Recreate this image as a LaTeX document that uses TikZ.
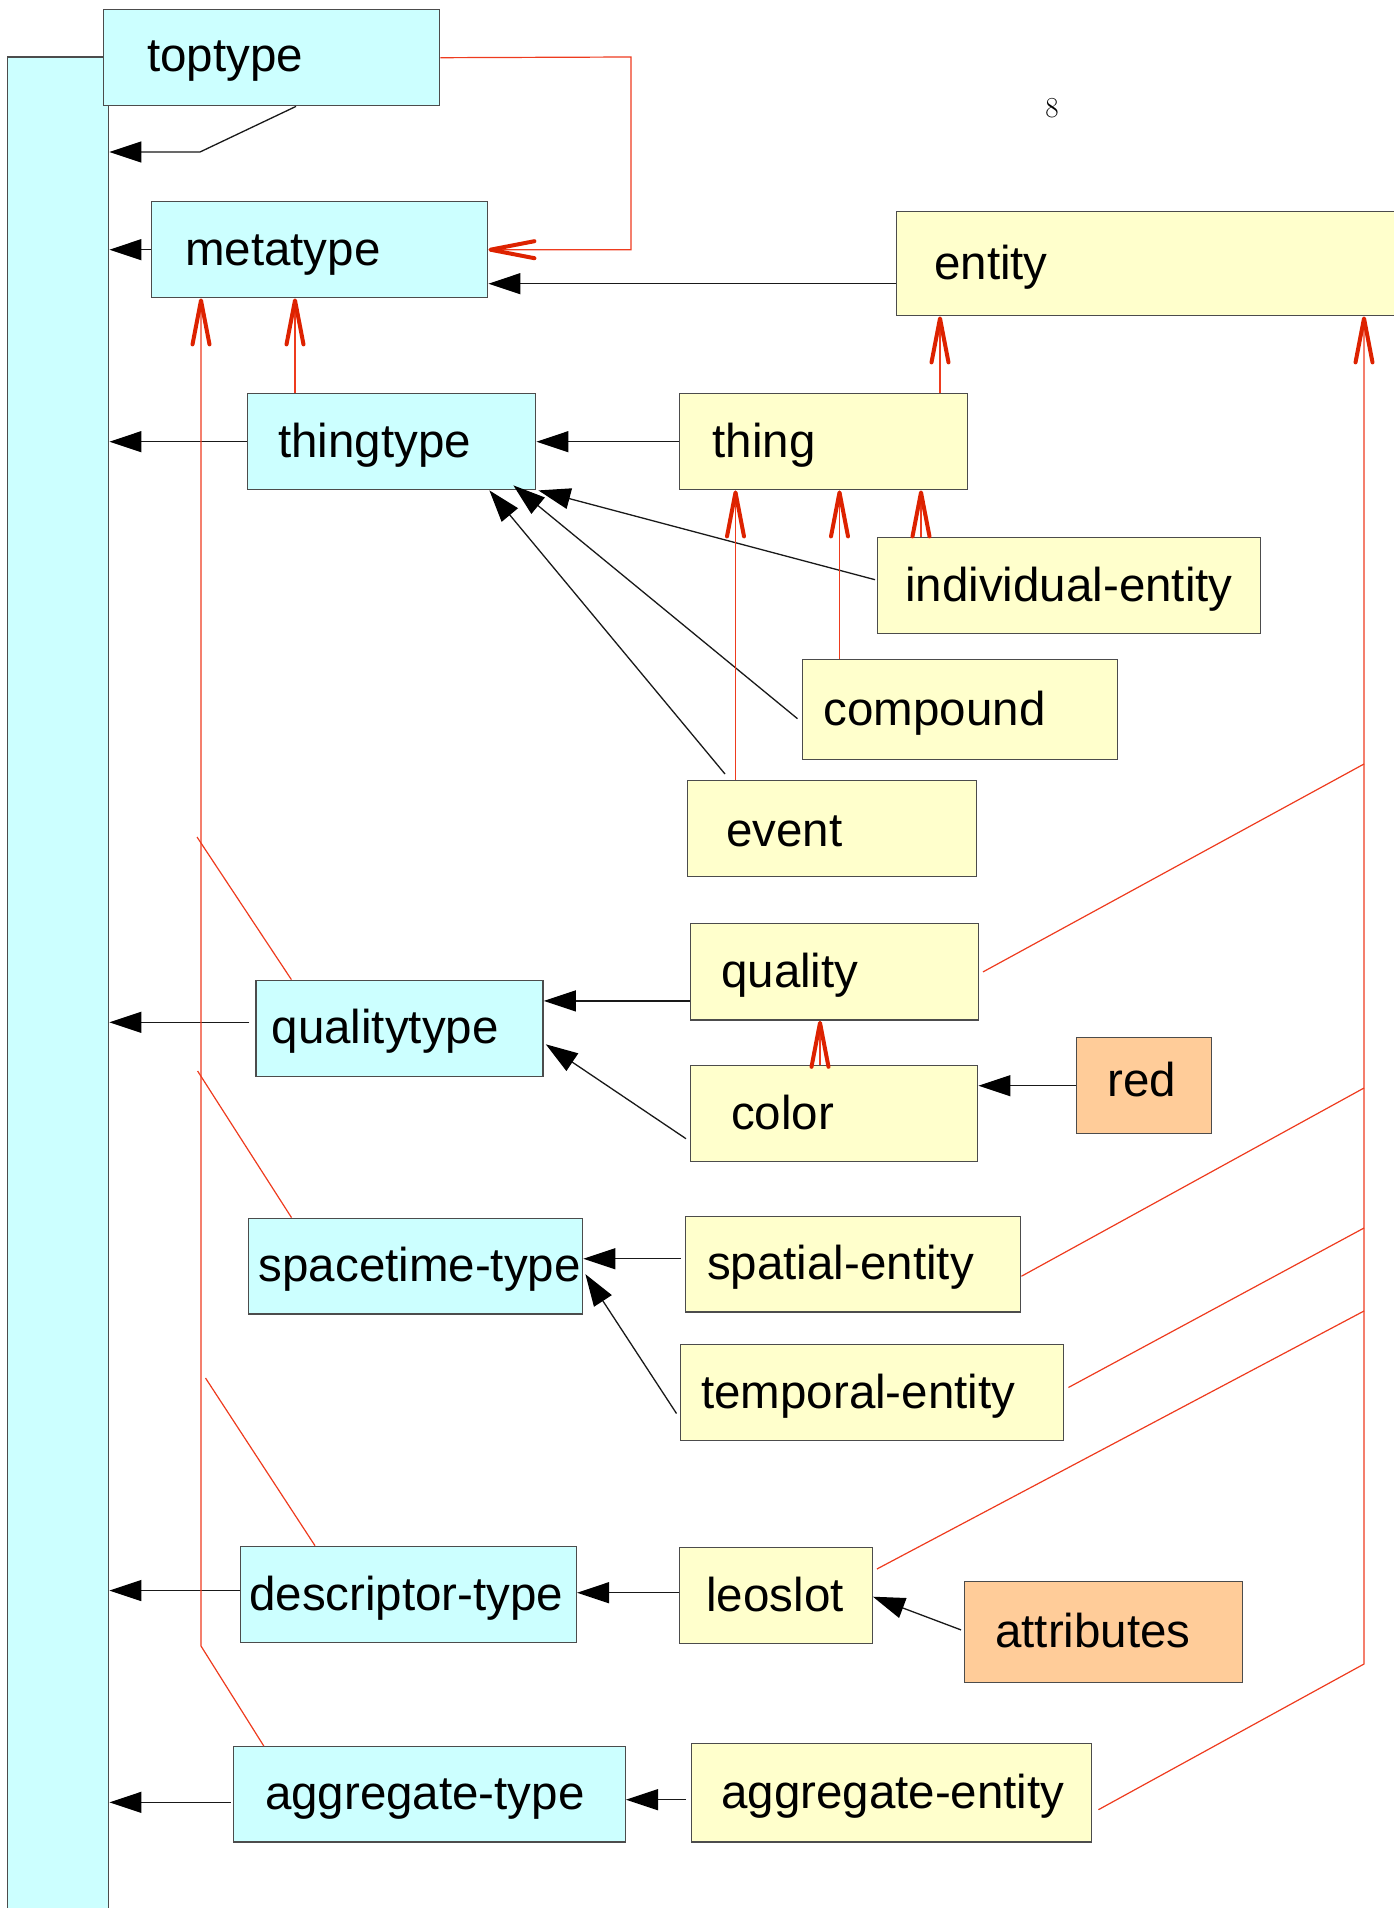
\documentclass[tikz,border=0pt]{standalone}
\usepackage{fontspec}
\setsansfont{Liberation Sans}
\usetikzlibrary{arrows.meta,calc}
\definecolor{cyanfill}{HTML}{CCFFFF}
\definecolor{yelfill}{HTML}{FFFFCC}
\definecolor{orgfill}{HTML}{FFCC99}
\definecolor{redline}{HTML}{EE3B1E}
\definecolor{redtip}{HTML}{DD2200}
\tikzset{
  box/.style={draw=black!70, line width=1.4pt, inner sep=0pt, anchor=north west},
  cbox/.style={box, fill=cyanfill},
  ybox/.style={box, fill=yelfill},
  obox/.style={box, fill=orgfill},
  lbl/.style={inner sep=0pt, anchor=west, font=\sffamily\fontsize{47.5}{57}\selectfont, text height=41pt, text depth=10pt},
  blk/.style={draw=black!90, line width=1.3pt, -{Triangle[length=32pt,width=21pt,color=black]}},
  rarr/.style={draw=redline, line width=1.2pt, -{Straight Barb[length=44pt,width=17pt,line width=4pt,round,color=redtip]}},
  rline/.style={draw=redline, line width=1.2pt},
}
\begin{document}
\begin{tikzpicture}[x=1pt,y=-1pt]
\useasboundingbox (0,0) rectangle (1393,1908);
% page number
\node[font=\fontsize{29}{34}\selectfont, inner sep=0pt] (pagenum) at (1052,108) {8};
% left bar
\node[cbox, minimum width=101, minimum height=1870] (bar) at (7,56.5) {};
% boxes
\node[cbox, minimum width=336, minimum height=96] (toptype) at (103,9) {};
\node[lbl] (toptype-t) at ($(toptype.west)+(44,-2)$) {toptype};
\node[cbox, minimum width=336, minimum height=96] (metatype) at (151,201) {};
\node[lbl] (metatype-t) at ($(metatype.west)+(34,0)$) {metatype};
\node[ybox, minimum width=560, minimum height=104] (entity) at (895.5,211) {};
\node[lbl] (entity-t) at ($(entity.west)+(38.5,0)$) {entity};
\node[cbox, minimum width=288, minimum height=96] (thingtype) at (247,393) {};
\node[lbl] (thingtype-t) at ($(thingtype.west)+(31,0)$) {thingtype};
\node[ybox, minimum width=288, minimum height=96] (thing) at (679,393) {};
\node[lbl] (thing-t) at ($(thing.west)+(33.5,0)$) {thing};
\node[ybox, minimum width=383, minimum height=96] (indent) at (877,537) {};
\node[lbl] (indent-t) at ($(indent.west)+(28,0)$) {individual-entity};
\node[ybox, minimum width=315.5, minimum height=100] (compound) at (801.5,659) {};
\node[lbl] (compound-t) at ($(compound.west)+(22,0)$) {compound};
\node[ybox, minimum width=288.5, minimum height=96] (event) at (687,780) {};
\node[lbl] (event-t) at ($(event.west)+(39,2)$) {event};
\node[ybox, minimum width=287.6, minimum height=96.4] (quality) at (690,923) {};
\node[lbl] (quality-t) at ($(quality.west)+(31,0)$) {quality};
\node[cbox, minimum width=287, minimum height=96] (qualtype) at (255.4,979.6) {};
\node[lbl] (qualtype-t) at ($(qualtype.west)+(16,0)$) {qualitytype};
\node[ybox, minimum width=287, minimum height=96] (color) at (690,1065) {};
\node[lbl] (color-t) at ($(color.west)+(41,0)$) {color};
\node[obox, minimum width=134.6, minimum height=96] (red) at (1076,1037) {};
\node[lbl] (red-t) at ($(red.west)+(31,-5)$) {red};
\node[cbox, minimum width=334.5, minimum height=95.7] (spacetime) at (247.5,1217.6) {};
\node[lbl] (spacetime-t) at ($(spacetime.west)+(11,0)$) {spacetime-type};
\node[ybox, minimum width=335, minimum height=95.7] (spatial) at (685,1215.7) {};
\node[lbl] (spatial-t) at ($(spatial.west)+(22,0)$) {spatial-entity};
\node[ybox, minimum width=383.5, minimum height=95.6] (temporal) at (679.5,1344) {};
\node[lbl] (temporal-t) at ($(temporal.west)+(21.5,0)$) {temporal-entity};
\node[cbox, minimum width=335.7, minimum height=96.3] (desc) at (240,1545.7) {};
\node[lbl] (desc-t) at ($(desc.west)+(9,0)$) {descriptor-type};
\node[ybox, minimum width=192.8, minimum height=96] (leoslot) at (678.7,1547) {};
\node[lbl] (leoslot-t) at ($(leoslot.west)+(27.5,0)$) {leoslot};
\node[obox, minimum width=278, minimum height=101] (attr) at (964,1580.7) {};
\node[lbl] (attr-t) at ($(attr.west)+(31,0)$) {attributes};
\node[cbox, minimum width=391.8, minimum height=95.3] (aggtype) at (232.8,1746) {};
\node[lbl] (aggtype-t) at ($(aggtype.west)+(32,0)$) {aggregate-type};
\node[ybox, minimum width=400, minimum height=98.6] (aggent) at (691,1742.7) {};
\node[lbl] (aggent-t) at ($(aggent.west)+(30,0)$) {aggregate-entity};

% ---------- black connectors ----------
\coordinate (tt0) at ($(toptype.south west)+(193,0)$);
\coordinate (tt1) at (200,152);
\draw[blk] (tt0) -- (tt1) -- (tt1 -| bar.east);
\draw[blk] (metatype.west) -- (metatype.west -| bar.east);
\coordinate (e1) at ($(entity.west)+(0,20)$);
\draw[blk] (e1) -- (e1 -| metatype.east);
\draw[blk] (thingtype.west) -- (thingtype.west -| bar.east);
\draw[blk] (thing.west) -- (thing.west -| thingtype.east);
\draw[blk] ($(indent.west)+(-2,-6)$) -- ($(thingtype.south east)+(2,0)$);
\draw[blk] ($(compound.west)+(-4,9)$) -- ($(thingtype.south east)+(-23,-5)$);
\draw[blk] ($(event.north west)+(38,-6)$) -- ($(thingtype.south east)+(-47,0)$);
\coordinate (qa) at ($(quality.west)+(0,29)$);
\draw[blk] (qa) -- (qa -| qualtype.east);
\draw[blk] ($(color.west)+(-4,25)$) -- ($(qualtype.east)+(2,16)$);
\draw[blk] (red.west) -- (red.west -| color.east);
\coordinate (qt) at ($(qualtype.west)+(-6,-6)$);
\draw[blk] (qt) -- (qt -| bar.east);
\coordinate (sp) at ($(spatial.west)+(-4,-5.5)$);
\draw[blk] (sp) -- (sp -| spacetime.east);
\draw[blk] ($(temporal.west)+(-3,21)$) -- ($(spacetime.east)+(2,8)$);
\coordinate (dt) at ($(desc.west)+(0,-4)$);
\draw[blk] (dt) -- (dt -| bar.east);
\coordinate (ls) at ($(leoslot.west)+(0,-3)$);
\draw[blk] (ls) -- (ls -| desc.east);
\draw[blk] ($(attr.west)+(-3,-2)$) -- ($(leoslot.east)+(0,1)$);
\coordinate (at) at ($(aggtype.west)+(-2,8)$);
\draw[blk] (at) -- (at -| bar.east);
\coordinate (ae) at ($(aggent.west)+(-5,7)$);
\draw[blk] (ae) -- (ae -| aggtype.east);

% ---------- red connectors ----------
\coordinate (rt) at (631,57);
\draw[rarr] (toptype.east) -- (rt) |- (metatype.east);
\coordinate (t1) at ($(thingtype.north west)+(48,0)$);
\draw[rarr] (t1) -- (t1 |- metatype.south);
% left vertical red line
\coordinate (lb) at (201,1646);
\draw[rarr] ($(aggtype.north west)+(31,0)$) -- (lb) -- (lb |- metatype.south);
\coordinate (lq) at (197,837);
\draw[rline] (lq) -- ($(qualtype.north west)+(36,0)$);
\coordinate (ls2) at (197.6,1071);
\draw[rline] (ls2) -- ($(spacetime.north west)+(44,0)$);
\coordinate (ld) at (205.5,1378);
\draw[rline] (ld) -- ($(desc.north west)+(75,0)$);
% thing family
\coordinate (th1) at ($(thing.north west)+(261,0)$);
\draw[rarr] (th1) -- (th1 |- entity.south);
\coordinate (ie1) at ($(indent.north west)+(44,0)$);
\draw[rarr] (ie1) -- (ie1 |- thing.south);
\coordinate (cp1) at ($(compound.north west)+(38,0)$);
\draw[rarr] (cp1) -- (cp1 |- thing.south);
\coordinate (ev1) at ($(event.north west)+(48.5,0)$);
\draw[rarr] (ev1) -- (ev1 |- thing.south);
\coordinate (co1) at ($(color.north west)+(130,0)$);
\draw[rarr] (co1) -- (co1 |- quality.south);
% right vertical red line
\coordinate (rb) at (1364,1664);
\draw[rarr] ($(aggent.east)+(6,17)$) -- (rb) -- (rb |- entity.south);
\coordinate (rq) at (1364,764);
\draw[rline] ($(quality.east)+(4,0)$) -- (rq);
\coordinate (rs) at (1364,1088);
\draw[rline] ($(spatial.east)+(0,12)$) -- (rs);
\coordinate (rtm) at (1364,1228);
\draw[rline] ($(temporal.east)+(4,-5)$) -- (rtm);
\coordinate (rl) at (1364,1311);
\draw[rline] ($(leoslot.north east)+(4,22)$) -- (rl);
\end{tikzpicture}
\end{document}
